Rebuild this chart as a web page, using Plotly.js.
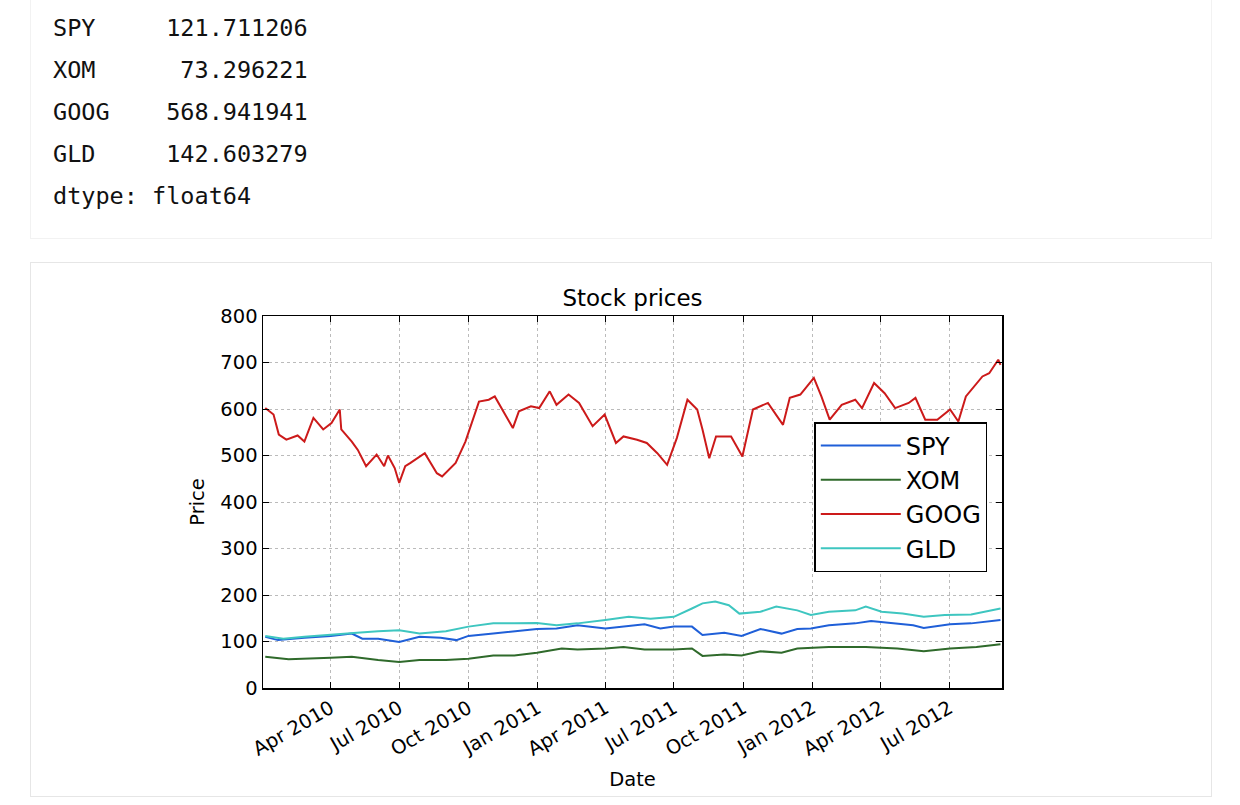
<!DOCTYPE html>
<html>
<head>
<meta charset="utf-8">
<script src="https://cdn.plot.ly/plotly-3.0.1.min.js"></script>
<style>
  body { margin: 0; background: #fff; width: 1240px; height: 805px; overflow: hidden; position: relative; }
  #out { position: absolute; left: 30px; top: 0; width: 1180px; height: 238px; background: #fff; border: 1px solid #f2f2f2; border-top: none; }
  #out pre { margin: 0; position: absolute; left: 22px; top: 7px; font-family: "DejaVu Sans Mono", monospace; font-size: 23.5px; line-height: 42px; color: #111; }
  #frame { position: absolute; left: 30px; top: 262px; width: 1180px; height: 533px; border: 1px solid #e6e6e6; }
  #grafico { position: absolute; left: 0; top: 0; width: 1240px; height: 805px; }
</style>
</head>
<body>
<div id="out"><pre id="saida"></pre></div>
<div id="frame"></div>
<div id="grafico"></div>
<script>
/* valores médios impressos acima do gráfico */
let simbolos = ["SPY", "XOM", "GOOG", "GLD"];
let medias = ["121.711206", "73.296221", "568.941941", "142.603279"];

/* GOOG */
let datasGoog = ["2010-01-04","2010-01-15","2010-01-22","2010-02-01","2010-02-16","2010-02-25","2010-03-09","2010-03-22",
  "2010-04-02","2010-04-13","2010-04-15","2010-04-29","2010-05-07","2010-05-18","2010-06-01","2010-06-11","2010-06-16",
  "2010-06-25","2010-07-01","2010-07-09","2010-07-16","2010-08-04","2010-08-20","2010-08-27","2010-09-14","2010-09-27",
  "2010-10-15","2010-10-28","2010-11-05","2010-11-15","2010-11-29","2010-12-07","2010-12-23","2011-01-03","2011-01-17",
  "2011-01-26","2011-02-11","2011-02-25","2011-03-15","2011-03-31","2011-04-15","2011-04-25","2011-05-13","2011-05-26",
  "2011-06-09","2011-06-22","2011-07-05","2011-07-19","2011-08-01","2011-08-08","2011-08-17","2011-08-26","2011-09-15",
  "2011-09-30","2011-10-14","2011-11-03","2011-11-23","2011-12-02","2011-12-16","2012-01-03","2012-01-13","2012-01-24",
  "2012-02-09","2012-02-27","2012-03-07","2012-03-23","2012-04-06","2012-04-20","2012-05-08","2012-05-17","2012-05-30",
  "2012-06-15","2012-07-02","2012-07-13","2012-07-23","2012-08-14","2012-08-23","2012-09-04","2012-09-07"];
let goog = [602,588,545,534,543,530,581,556,570,599,556,530,512,477,502,477,500,473,441,477,484,505,462,455,484,530,
  616,620,627,599,559,595,606,602,638,609,631,613,563,588,527,541,534,527,505,480,538,620,599,556,494,541,541,498,
  599,613,566,624,631,667,627,577,609,620,602,656,634,602,613,624,577,577,599,573,627,670,677,706,695];

/* SPY */
let datasSpy = ["2010-01-04","2010-01-21","2010-02-25","2010-04-01","2010-04-29","2010-05-13","2010-06-03","2010-07-01",
  "2010-07-28","2010-08-25","2010-09-15","2010-10-01","2010-11-03","2010-12-01","2010-12-31","2011-01-26","2011-02-23",
  "2011-04-01","2011-04-25","2011-05-23","2011-06-13","2011-07-01","2011-07-25","2011-08-08","2011-09-06","2011-09-29",
  "2011-10-24","2011-11-21","2011-12-12","2011-12-30","2012-01-23","2012-02-27","2012-03-19","2012-04-16","2012-05-14",
  "2012-05-28","2012-07-02","2012-07-30","2012-09-07"];
let spy = [110,103,108,112,117,106,106,99,110,108,103,112,117,122,127,128,135,128,132,137,128,132,132,114,119,112,
  127,117,127,128,135,139,144,139,135,129,137,139,146];

/* XOM */
let datasXom = ["2010-01-04","2010-02-04","2010-04-01","2010-04-29","2010-06-03","2010-07-01","2010-07-28","2010-09-01",
  "2010-10-01","2010-11-03","2010-12-01","2010-12-31","2011-02-02","2011-02-23","2011-04-01","2011-04-25","2011-05-23",
  "2011-07-01","2011-07-25","2011-08-08","2011-09-06","2011-09-29","2011-10-24","2011-11-21","2011-12-12","2012-01-23",
  "2012-03-12","2012-04-23","2012-05-28","2012-07-02","2012-08-06","2012-09-07"];
let xom = [67,62,65,67,60,56,60,60,63,70,70,76,85,83,85,88,83,83,85,69,72,70,79,76,85,88,88,85,79,85,88,94];

/* GLD */
let datasGld = ["2010-01-04","2010-01-28","2010-02-25","2010-04-01","2010-05-06","2010-06-03","2010-07-01","2010-07-28",
  "2010-09-01","2010-10-01","2010-11-03","2010-12-01","2010-12-31","2011-01-26","2011-02-23","2011-04-01","2011-05-02",
  "2011-05-31","2011-07-01","2011-07-25","2011-08-08","2011-08-25","2011-09-12","2011-09-26","2011-10-24","2011-11-14",
  "2011-12-12","2011-12-30","2012-01-23","2012-02-27","2012-03-12","2012-04-02","2012-04-30","2012-05-28","2012-06-25",
  "2012-07-30","2012-09-07"];
let gld = [112,106,110,115,119,122,124,117,122,132,139,139,140,135,139,146,153,149,153,171,182,186,178,160,164,175,
  167,157,164,167,175,164,160,153,157,158,171];

document.getElementById("saida").textContent =
  simbolos.map((s, i) => s.padEnd(4) + medias[i].padStart(14)).join("\n") + "\ndtype: float64";

function serie(x, y, nome, cor){
    return { x: x, y: y, mode: "lines", name: nome, line: { color: cor, width: 2 } };
}

let traces = [
    serie(datasSpy, spy, "SPY", "#1f5fd8"),
    serie(datasXom, xom, "XOM", "#2f6a2b"),
    serie(datasGoog, goog, "GOOG", "#cc1a1a"),
    serie(datasGld, gld, "GLD", "#3ec6c0")
];

let fonte = { family: "DejaVu Sans, sans-serif", size: 19.5, color: "#000" };

let layout = {
    width: 1240,
    height: 805,
    paper_bgcolor: "rgba(0,0,0,0)",
    plot_bgcolor: "#fff",
    font: fonte,
    showlegend: true,
    margin: { l: 263, r: 238, t: 316, b: 117 },
    title: { text: "Stock prices", font: { family: "DejaVu Sans, sans-serif", size: 23 }, x: 0.5, xanchor: "center", y: 0.63, yanchor: "middle", xref: "paper" },
    xaxis: {
        type: "date",
        range: ["2010-01-01", "2012-09-09"],
        tickvals: ["2010-04-01","2010-07-01","2010-10-01","2011-01-01","2011-04-01","2011-07-01","2011-10-01","2012-01-01","2012-04-01","2012-07-01"],
        ticktext: ["Apr 2010","Jul 2010","Oct 2010","Jan 2011","Apr 2011","Jul 2011","Oct 2011","Jan 2012","Apr 2012","Jul 2012"],
        tickangle: -30,
        ticks: "inside", ticklen: 6, tickcolor: "#000",
        showline: true, linecolor: "#000", linewidth: 1.5, mirror: "ticks",
        showgrid: true, gridcolor: "#bbb", griddash: "dot", zeroline: false,
        title: { text: "Date", font: fonte, standoff: 12 }
    },
    yaxis: {
        range: [0, 800], dtick: 100,
        ticks: "inside", ticklen: 6, tickcolor: "#000",
        showline: true, linecolor: "#000", linewidth: 1.5, mirror: "ticks",
        showgrid: true, gridcolor: "#bbb", griddash: "dot", zeroline: false,
        title: { text: "Price", font: fonte, standoff: 10 }
    },
    legend: {
        x: 0.746, y: 0.715, xanchor: "left", yanchor: "top",
        bgcolor: "#fff", bordercolor: "#000", borderwidth: 1.5,
        font: { family: "DejaVu Sans, sans-serif", size: 24, color: "#000" },
        itemwidth: 80, tracegroupgap: 10
    }
};

Plotly.newPlot("grafico", traces, layout, { staticPlot: true });
</script>
</body>
</html>
